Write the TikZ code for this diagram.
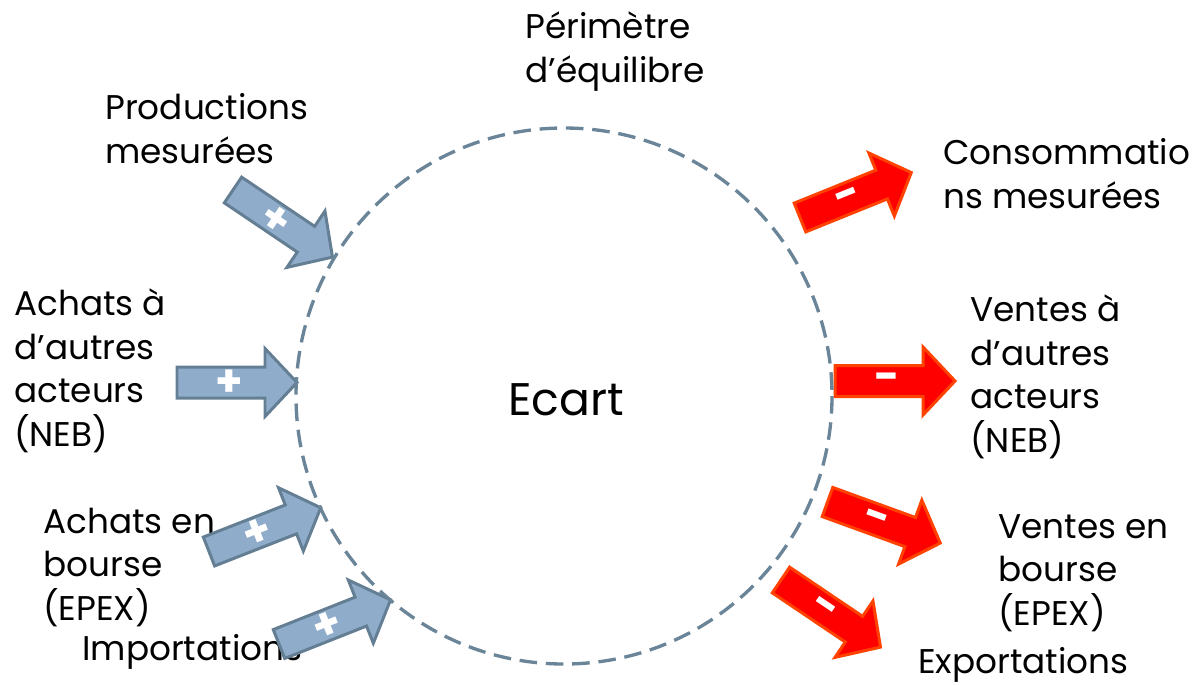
\documentclass[tikz,border=0pt]{standalone}
\usepackage{fontspec}
\setmainfont{Poppins}
\definecolor{bluefill}{RGB}{143,172,202}
\definecolor{blueline}{RGB}{100,126,148}
\definecolor{redfill}{RGB}{255,0,0}
\definecolor{redline}{RGB}{255,66,0}
\definecolor{circleline}{RGB}{106,132,152}
\tikzset{
  lbl/.style={anchor=base west, inner sep=0pt, align=left, font=\fontsize{19.5}{24.7}\selectfont},
  bigl/.style={anchor=base west, inner sep=0pt, font=\fontsize{26}{30}\selectfont},
  bluebody/.style={fill=bluefill, draw=blueline, line width=1.7pt, line join=miter},
  redbody/.style={fill=redfill, draw=redline, line width=1.7pt, line join=miter},
  sign/.style={text=white, font=\fontsize{25}{25}\selectfont\bfseries, transform shape, inner sep=0pt},
  pics/blockarrow/.style 2 args={code={
    \draw[#1] (0,-15.5) -- (88,-15.5) -- (88,-34) -- (120,0) -- (88,34) -- (88,15.5) -- (0,15.5) -- cycle;
    \node[sign] (-s) at (52,1) {#2};
  }},
  perim/.style={draw=circleline, line width=1.9pt, dash pattern=on 10pt off 5pt},
}
\begin{document}
\begin{tikzpicture}[x=0.02cm,y=-0.02cm]
\useasboundingbox (0,0) rectangle (1203,684);
% labels (anchored at the baseline of their last line)
\node[lbl] (perimetre) at (525,82) {Périmètre\\d’équilibre};
\node[lbl] (prod) at (105,163) {Productions\\mesurées};
\node[lbl] (achneb) at (14,446) {Achats à\\d’autres\\acteurs\\(NEB)};
\node[lbl] (achepex) at (43,620) {Achats en\\bourse\\(EPEX)};
\node[lbl] (imp) at (82,660) {Importations};
\node[lbl] (cons) at (943,208) {Consommatio\\ns mesurées};
\node[lbl] (venneb) at (970,452) {Ventes à\\d’autres\\acteurs\\(NEB)};
\node[lbl] (venepex) at (998,625) {Ventes en\\bourse\\(EPEX)};
\node[lbl] (exp) at (918,673) {Exportations};
\node[bigl] (ecart) at (508,415) {Ecart};
% arrows
\pic[rotate=-34] (a1) at (233,190) {blockarrow={bluebody}{+}};
\pic (a2) at (177,382.5) {blockarrow={bluebody}{+}};
\pic[rotate=21.4] (a3) at (209,551.5) {blockarrow={bluebody}{+}};
\pic[rotate=21.6] (a4) at (279,644) {blockarrow={bluebody}{+}};
\pic[rotate=22] (a5) at (800,217.5) {blockarrow={redbody}{-}};
\pic (a6) at (835,381) {blockarrow={redbody}{-}};
\pic[rotate=-20] (a7) at (827.5,502) {blockarrow={redbody}{-}};
\pic[rotate=-34] (a8) at (781,580) {blockarrow={redbody}{-}};
% perimeter
\coordinate (c) at (564,396);
\draw[perim] (c) circle [radius=268];
\end{tikzpicture}
\end{document}
